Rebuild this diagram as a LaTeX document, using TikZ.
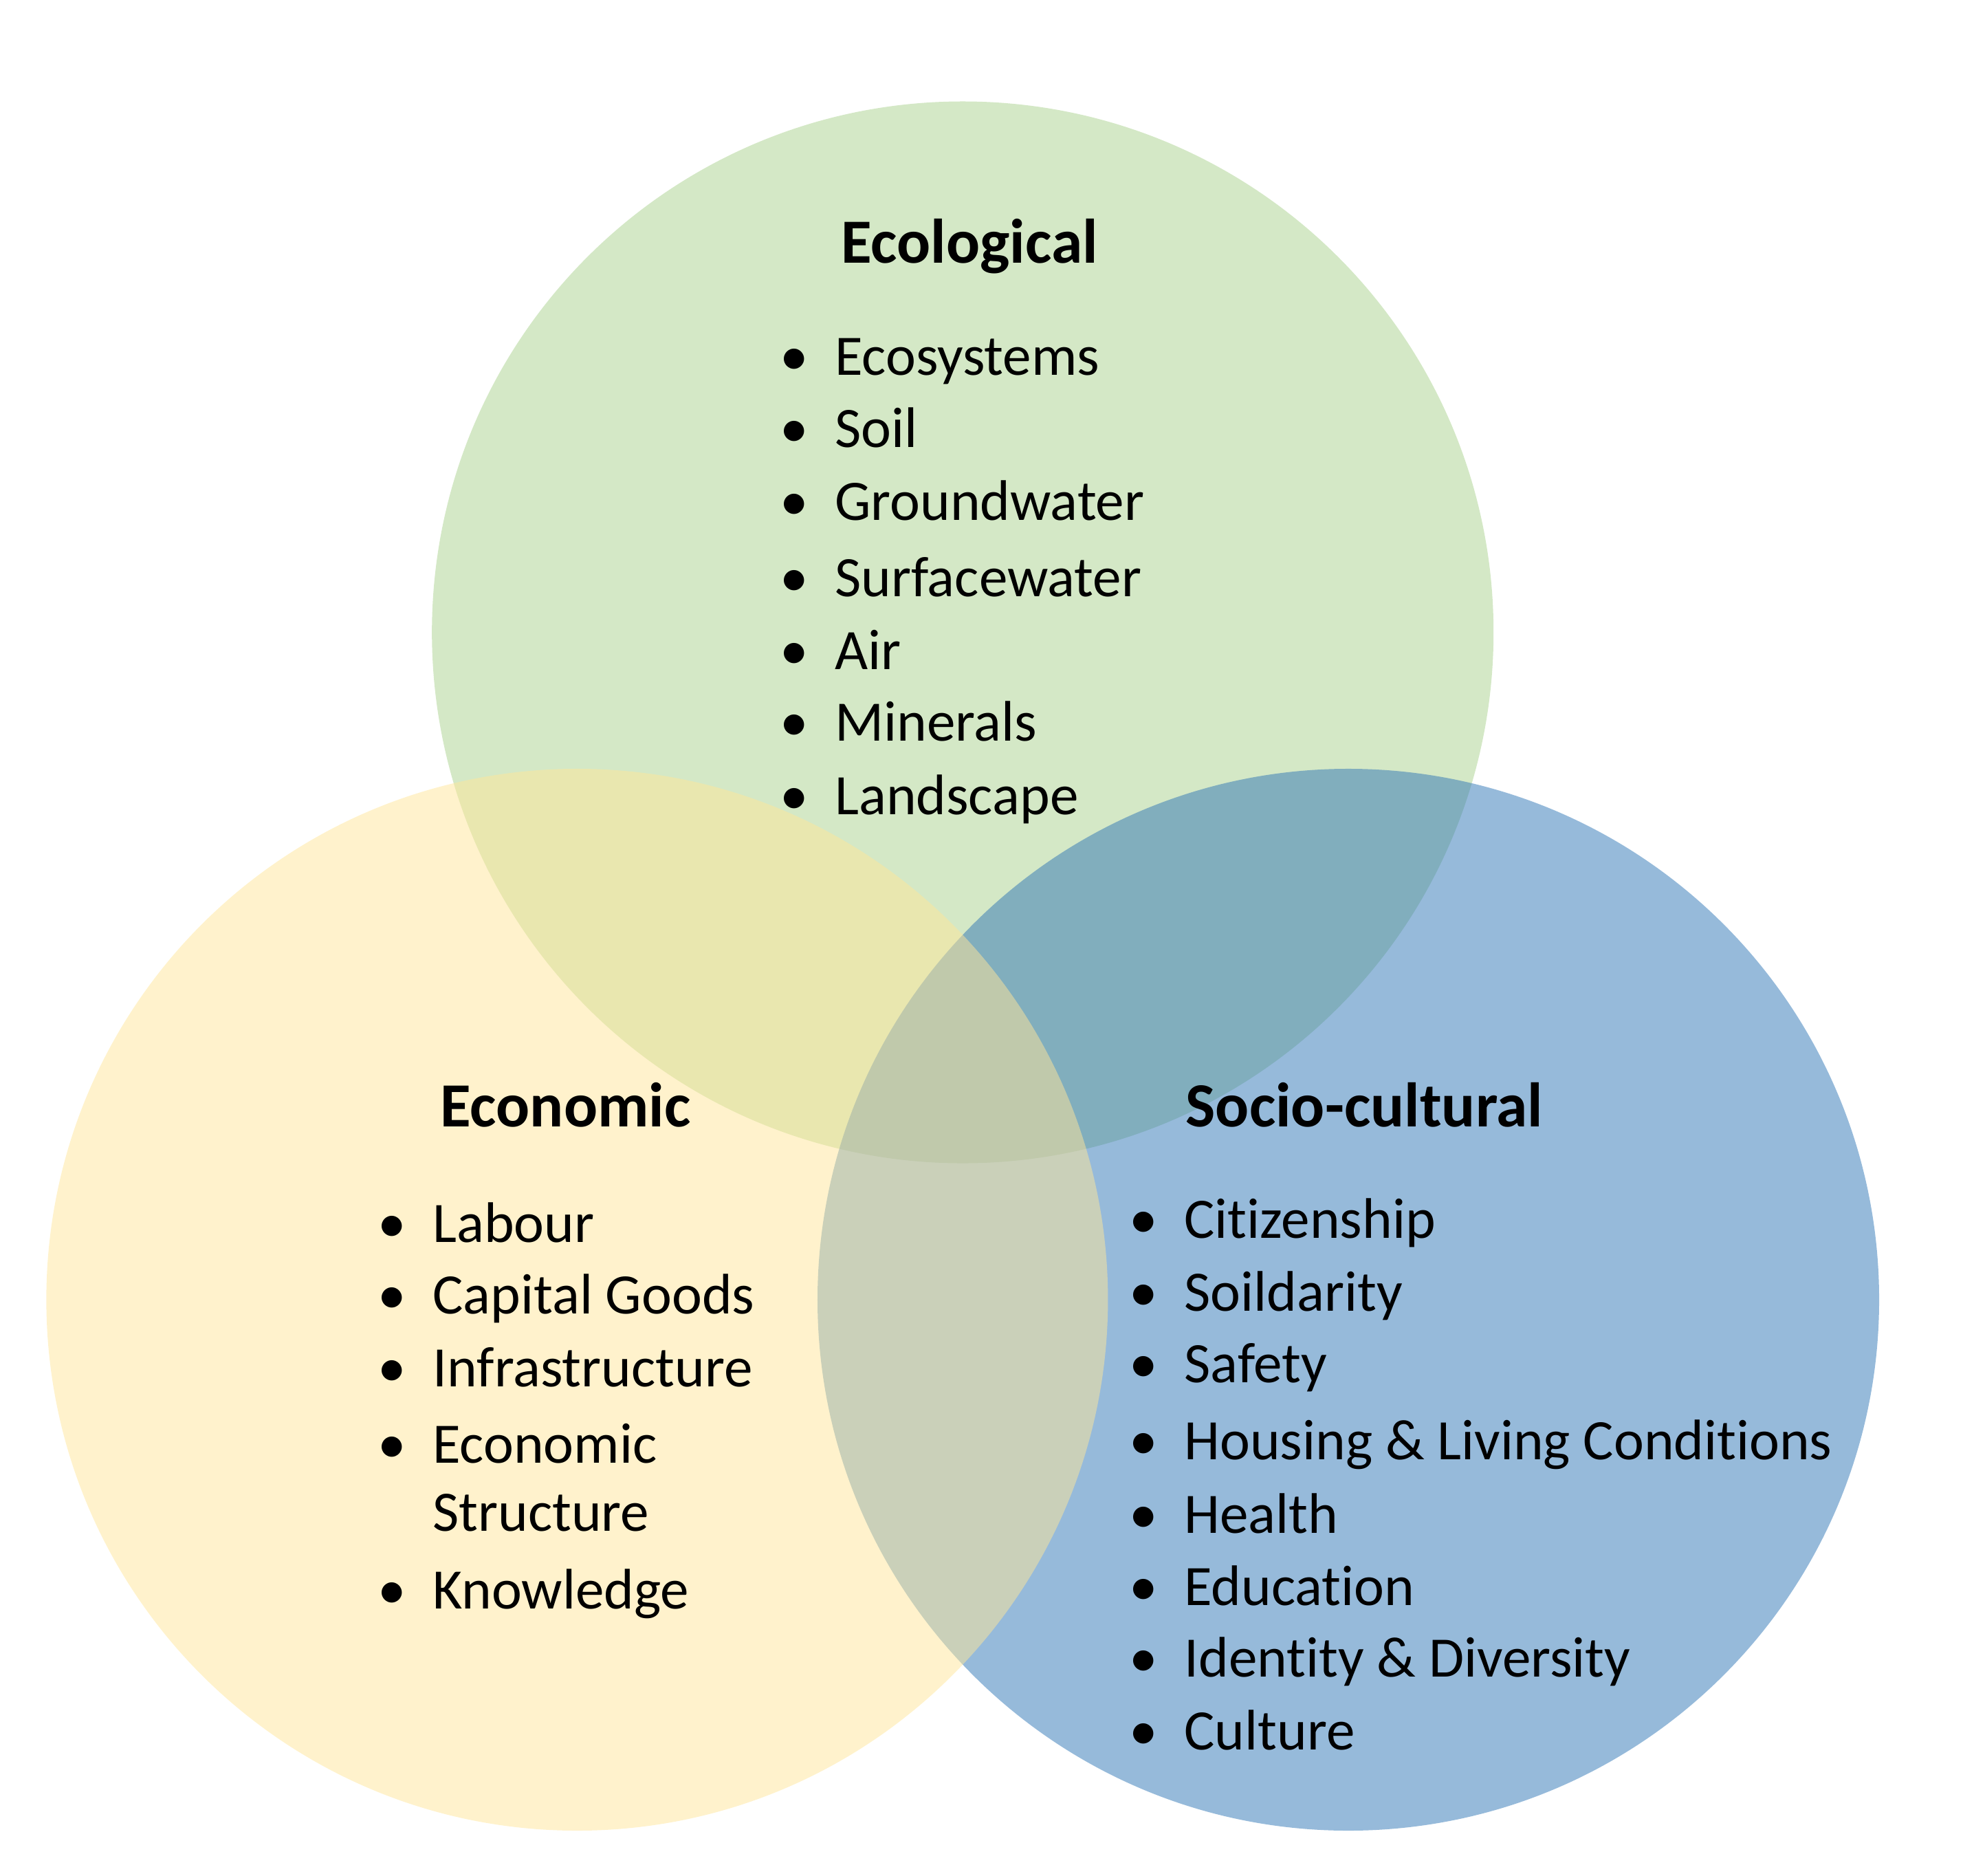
\documentclass[tikz,border=0pt]{standalone}
\usepackage{fontspec}
\setmainfont{Carlito}[Ligatures={NoCommon}]
\definecolor{ecoGreen}{HTML}{A9D18E}
\definecolor{econGold}{HTML}{FFE699}
\definecolor{socBlue}{HTML}{2E75B6}
\tikzset{
  ring/.style = {circle, inner sep=0pt, minimum size=8.48cm, fill opacity=0.5},
  head/.style = {anchor=base west, inner sep=0pt,
                 font=\fontsize{14.3}{17}\selectfont\bfseries},
  item/.style = {anchor=base west, inner sep=0pt,
                 font=\fontsize{13}{15.45}\selectfont}
}
\newcommand{\vennitem}[1]{\makebox[0pt]{\textbullet}\hspace{0.325cm}#1}

\begin{document}
\begin{tikzpicture}
\useasboundingbox (0,0) rectangle (15.68,-14.98);

% the three circles
\node[ring, fill=ecoGreen] (eco)  at (7.69,-5.05)  {};
\node[ring, fill=socBlue]  (soc)  at (10.77,-10.38) {};
\node[ring, fill=econGold] (econ) at (4.61,-10.38) {};

% Ecological
\node[head] (ecoT) at (6.71,-2.103) {Ecological};
\node[item] (eco1) at (6.337,-2.994) {\vennitem{Ecosystems}};
\node[item] (eco2) at (6.337,-3.572) {\vennitem{Soil}};
\node[item] (eco3) at (6.337,-4.154) {\vennitem{Groundwater}};
\node[item] (eco4) at (6.337,-4.766) {\vennitem{Surfacewater}};
\node[item] (eco5) at (6.337,-5.344) {\vennitem{Air}};
\node[item] (eco6) at (6.337,-5.919) {\vennitem{Minerals}};
\node[item] (eco7) at (6.337,-6.504) {\vennitem{Landscape}};

% Economic
\node[head] (econT) at (3.51,-8.996) {Economic};
\node[item] (econ1) at (3.125,-9.921)  {\vennitem{Labour}};
\node[item] (econ2) at (3.125,-10.492) {\vennitem{Capital Goods}};
\node[item] (econ3) at (3.125,-11.074) {\vennitem{Infrastructure}};
\node[item] (econ4) at (3.125,-11.686)
  {\vennitem{\begin{tabular}[t]{@{}l@{}}Economic\\Structure\end{tabular}}};
\node[item] (econ5) at (3.125,-12.846) {\vennitem{Knowledge}};

% Socio-cultural
\node[head] (socT) at (9.465,-8.997) {Socio-cultural};
\node[item] (soc1) at (9.128,-9.891)  {\vennitem{Citizenship}};
\node[item] (soc2) at (9.128,-10.469) {\vennitem{Soildarity}};
\node[item] (soc3) at (9.128,-11.039) {\vennitem{Safety}};
\node[item] (soc4) at (9.128,-11.656) {\vennitem{Housing \& Living Conditions}};
\node[item] (soc5) at (9.128,-12.242) {\vennitem{Health}};
\node[item] (soc6) at (9.128,-12.823) {\vennitem{Education}};
\node[item] (soc7) at (9.128,-13.390) {\vennitem{Identity \& Diversity}};
\node[item] (soc8) at (9.128,-13.975) {\vennitem{Culture}};

\end{tikzpicture}
\end{document}
